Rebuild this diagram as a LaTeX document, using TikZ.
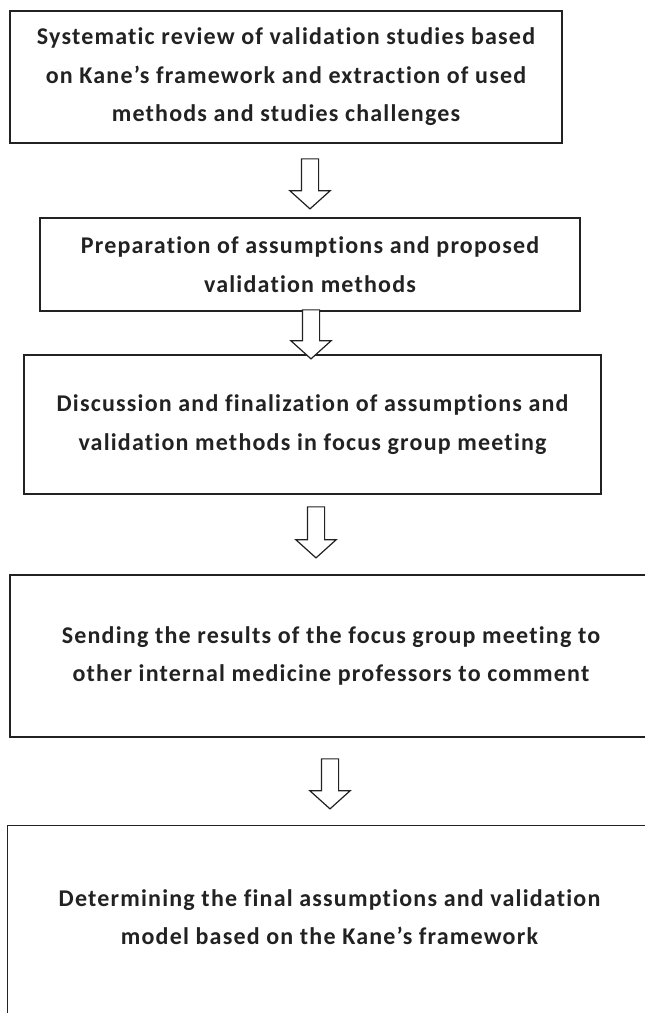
\documentclass[tikz,border=0pt]{standalone}
\usepackage{fontspec}
\setmainfont{Carlito}[LetterSpace=5,Ligatures=NoCommon]
\usetikzlibrary{shapes.arrows}
\definecolor{ink}{HTML}{222222}
\begin{document}
\begin{tikzpicture}[x=1pt,y=-1pt,
  stepbox/.style={draw=ink,line width=1.5pt,rectangle,align=center,inner sep=0pt,
    font=\fontsize{24}{38.5}\selectfont\bfseries,text=ink},
  blockarrow/.style={draw=ink,line width=1.2pt,single arrow,rotate=-90,
    inner sep=8pt,single arrow head extend=11.5pt,single arrow tip angle=96,
    minimum height=#1,fill=white},
]
\clip (0,0) rectangle (645,1013);
\fill[white] (0,0) rectangle (645,1013);

\node[stepbox,minimum width=552pt,minimum height=132pt] (b1) at (286,77)
  {Systematic review of validation studies based\\on Kane's framework and extraction of used\\methods and studies challenges};
\node[stepbox,minimum width=540pt,minimum height=93pt] (b2) at (310,264.5)
  {Preparation of assumptions and proposed\\validation methods};
\node[stepbox,minimum width=577pt,minimum height=139pt] (b3) at (312.5,424.5)
  {Discussion and finalization of assumptions and\\validation methods in focus group meeting};
\node[stepbox,minimum width=642pt,minimum height=162pt] (b4) at (331,656)
  {Sending the results of the focus group meeting to\\other internal medicine professors to comment};
\node[stepbox,draw=none,minimum width=643pt,minimum height=182pt] (b5) at (329.5,917)
  {Determining the final assumptions and validation\\model based on the Kane's framework};
\draw[ink,line width=1.5pt] ([yshift=-20pt]b5.south west) -- (b5.north west) -- (b5.north east) -- ([yshift=-20pt]b5.south east);

\node[blockarrow=50pt] (a1) at (310,180) {};
\node[blockarrow=49pt] (a2) at (311,330.5) {};
\node[blockarrow=51pt] (a3) at (316,528.5) {};
\node[blockarrow=50pt] (a4) at (330,780) {};
\end{tikzpicture}
\end{document}
